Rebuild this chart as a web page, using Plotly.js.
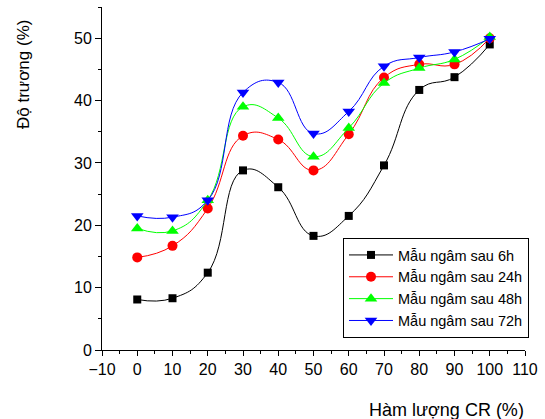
<!DOCTYPE html>
<html><head><meta charset="utf-8">
<script src="https://cdn.plot.ly/plotly-3.0.1.min.js"></script>
<style>body{margin:0;background:#fff}#c{width:545px;height:419px}</style>
</head><body><div id="c"></div>
<script>
const cr = [0,10,20,30,40,50,60,70,80,90,100];
const s6h  = [8.1,8.3,12.4,28.8,26.1,18.3,21.5,29.6,41.7,43.75,49.0];
const s24h = [14.85,16.7,22.7,34.35,33.75,28.8,34.6,43.7,45.8,45.8,50.0];
const s48h = [19.5,19.1,24.0,39.0,37.2,31.0,35.6,42.8,45.2,46.6,50.2];
const s72h = [21.5,21.3,24.0,41.3,42.9,34.7,38.25,45.5,46.9,47.8,49.9];
const names = ['Mẫu ngâm sau 6h','Mẫu ngâm sau 24h','Mẫu ngâm sau 48h','Mẫu ngâm sau 72h'];
const xTitle = 'Hàm lượng CR (%)';
const yTitle = 'Độ trương (%)';

const series = [s6h,s24h,s48h,s72h];
const colors = ['#000000','#ff0000','#00ff00','#0000ff'];
const symbols = ['square','circle','triangle-up','triangle-down'];
const sizes = [8,10,11,11];
const traces = series.map((s,i)=>({
  x: cr, y: s, name: names[i], type:'scatter', mode:'lines+markers',
  line:{color:colors[i], width:1, shape:'spline', smoothing:1.3},
  marker:{color:colors[i], symbol:symbols[i], size:sizes[i], line:{width:0}}
}));
const fam = 'Liberation Sans, Arial, sans-serif';
const layout = {
  width:545, height:419,
  margin:{l:102, r:20, t:7, b:69},
  paper_bgcolor:'#fff', plot_bgcolor:'#fff',
  font:{family:fam, size:16, color:'#000'},
  showlegend:true,
  legend:{x:(343-102)/423, y:(350-238)/343, xanchor:'left', yanchor:'top', bgcolor:'#fff',
    bordercolor:'#000', borderwidth:1, font:{family:fam, size:14.5, color:'#000'},
    tracegroupgap:0, itemwidth:44},
  xaxis:{range:[-10,110], tickmode:'linear', tick0:-10, dtick:10, showgrid:false, zeroline:false,
    showline:true, linecolor:'#000', linewidth:1, ticks:'outside', ticklen:5, tickcolor:'#000',
    minor:{dtick:5, tick0:-10, ticks:'outside', ticklen:3, tickcolor:'#000', showgrid:false},
    tickfont:{family:fam, size:16, color:'#000'}, fixedrange:true},
  yaxis:{range:[0,55], tickmode:'linear', tick0:0, dtick:10, showgrid:false, zeroline:false,
    showline:true, linecolor:'#000', linewidth:1, ticks:'outside', ticklen:6, tickcolor:'#000',
    minor:{dtick:5, tick0:0, ticks:'outside', ticklen:3, tickcolor:'#000', showgrid:false},
    tickfont:{family:fam, size:16, color:'#000'}, fixedrange:true},
  annotations:[
    {text:xTitle, xref:'paper', yref:'paper', x:(446-102)/423, y:(350-410)/343, xanchor:'center', yanchor:'middle', showarrow:false, font:{family:fam,size:18,color:'#000'}},
    {text:yTitle, xref:'paper', yref:'paper', x:(23-102)/423, y:(350-75)/343, xanchor:'center', yanchor:'middle', textangle:-90, showarrow:false, font:{family:fam,size:17,color:'#000'}}
  ]
};
Plotly.newPlot('c', traces, layout, {displayModeBar:false, staticPlot:true});
</script></body></html>
